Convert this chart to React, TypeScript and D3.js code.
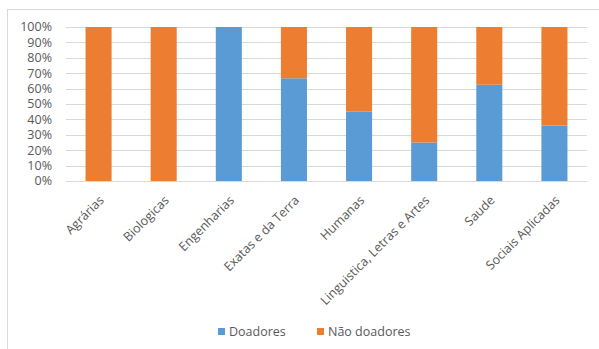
import React from "react";
import * as d3 from "d3";

const categories = [
  "Agrárias",
  "Biologicas",
  "Engenharias",
  "Exatas e da Terra",
  "Humanas",
  "Linguistica, Letras e Artes",
  "Saude",
  "Sociais Aplicadas",
];
const doadores = [0, 0, 1, 0.667, 0.45, 0.25, 0.625, 0.36];
const naoDoadores = categories.map((_, i) => 1 - doadores[i]);
const seriesNames = ["Doadores", "Não doadores"];
const seriesColors = ["#5b9bd5", "#ed7d31"];
const yTicks = [0, 0.1, 0.2, 0.3, 0.4, 0.5, 0.6, 0.7, 0.8, 0.9, 1];

const W = 599;
const H = 349;
const FONT = "'Open Sans', sans-serif";

export default function App() {
  const left = 66, right = 587, top = 27, bottom = 181;
  const x = d3.scaleBand<string>().domain(categories).range([left, right]).paddingInner(0.6).paddingOuter(0.3);
  const y = d3.scaleLinear().domain([0, 1]).range([bottom, top]);
  const fmt = d3.format(".0%");
  const rows = categories.map((c, i) => ({ c, d: doadores[i], n: naoDoadores[i] }));
  const stack = d3.stack<any>().keys(["d", "n"])(rows);

  return (
    <div style={{ position: "fixed", left: 0, top: 0, width: W, height: H, background: "#fff" }}>
      <svg width={W} height={H} style={{ display: "block" }}>
        <rect x={7.5} y={9.5} width={W} height={H} fill="#fff" stroke="#d9d9d9" strokeWidth={1} />
        {yTicks.map((t) => (
          <g key={t}>
            <line x1={left} x2={right} y1={Math.round(y(t)) + 0.5} y2={Math.round(y(t)) + 0.5} stroke="#d9d9d9" strokeWidth={1} />
            <text x={52} y={y(t)} dy="0.35em" textAnchor="end" fontFamily={FONT} fontSize={12.5} fill="#595959">
              {fmt(t)}
            </text>
          </g>
        ))}
        {stack.map((s, si) => (
          <g key={si} fill={seriesColors[si]}>
            {s.map((p, i) => (
              <rect
                key={i}
                x={x(categories[i])!}
                width={x.bandwidth()}
                y={y(p[1])}
                height={Math.max(0, y(p[0]) - y(p[1]))}
              />
            ))}
          </g>
        ))}
        {categories.map((c) => {
          const cx = x(c)! + x.bandwidth() / 2;
          return (
            <text
              key={c}
              transform={`translate(${cx + 3},${bottom + 17}) rotate(-45)`}
              textAnchor="end"
              dy="0.35em"
              fontFamily={FONT}
              fontSize={12.5}
              fill="#595959"
            >
              {c}
            </text>
          );
        })}
        {seriesNames.map((n, i) => {
          const lx = i === 0 ? 218 : 317;
          return (
            <g key={n}>
              <rect x={lx} y={328} width={7} height={7} fill={seriesColors[i]} />
              <text x={lx + 11} y={332} dy="0.35em" fontFamily={FONT} fontSize={12.5} fill="#595959">
                {n}
              </text>
            </g>
          );
        })}
      </svg>
    </div>
  );
}
